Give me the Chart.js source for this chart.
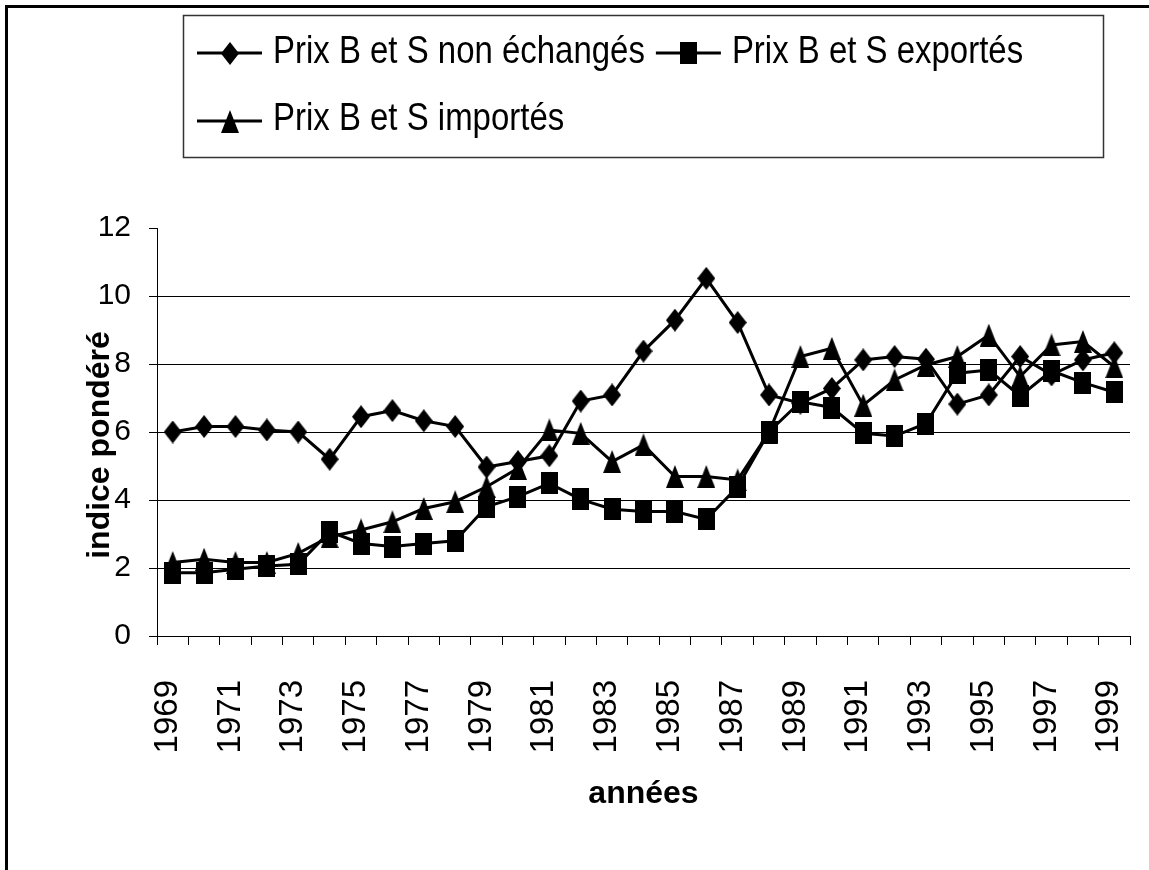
<!DOCTYPE html>
<html>
<head>
<meta charset="utf-8">
<script src="https://cdn.jsdelivr.net/npm/chart.js@4.4.1/dist/chart.umd.min.js"></script>
<style>
    html, body { margin: 0; padding: 0; background: #fff; }
    #wrap { position: relative; width: 1149px; height: 870px; }
</style>
</head>
<body>
<div id="wrap"><canvas id="chart" width="1149" height="870"></canvas></div>
<script>
(function () {
    'use strict';

    var years = [1969, 1970, 1971, 1972, 1973, 1974, 1975, 1976, 1977, 1978,
                 1979, 1980, 1981, 1982, 1983, 1984, 1985, 1986, 1987, 1988,
                 1989, 1990, 1991, 1992, 1993, 1994, 1995, 1996, 1997, 1998, 1999];

    var nonTraded = [6.0, 6.16, 6.16, 6.06, 6.0, 5.2, 6.45, 6.63, 6.33, 6.16,
                     4.97, 5.13, 5.3, 6.91, 7.09, 8.38, 9.29, 10.52, 9.22, 7.09,
                     6.85, 7.28, 8.12, 8.22, 8.14, 6.82, 7.09, 8.22, 7.68, 8.12, 8.33];

    var exported = [1.86, 1.86, 1.96, 2.06, 2.11, 3.07, 2.72, 2.63, 2.72, 2.8,
                    3.8, 4.1, 4.49, 4.02, 3.73, 3.66, 3.66, 3.43, 4.39, 6.01,
                    6.89, 6.72, 5.96, 5.88, 6.25, 7.73, 7.82, 7.06, 7.8, 7.45, 7.17];

    var imported = [2.16, 2.26, 2.16, 2.16, 2.43, 2.92, 3.12, 3.36, 3.75, 3.95,
                    4.39, 4.93, 6.06, 5.96, 5.13, 5.62, 4.69, 4.69, 4.59, 6.0,
                    8.22, 8.46, 6.79, 7.53, 7.97, 8.22, 8.85, 7.63, 8.56, 8.66, 7.92];

    var seriesNames = ['Prix B et S non échangés', 'Prix B et S exportés', 'Prix B et S importés'];
    var yTitle = 'indice pondéré';
    var xTitle = 'années';

    var yMin = 0;
    var yMax = 12;
    var yStep = 2;

    var FONT = '"Liberation Sans", Arial, sans-serif';
    // Legend text in the picture is a condensed face: squeeze a 39px Arial
    var LEGEND_FONT = '39px ' + FONT;
    var LEGEND_SQUEEZE = 0.845;

    /**
     * Solid black marker drawn on a small canvas (Excel style, taller than wide).
     */
    function makeMarker(shape, w, h) {
        var c = document.createElement('canvas');
        c.width = w;
        c.height = h;
        var g = c.getContext('2d');
        g.fillStyle = '#000';
        g.beginPath();
        if (shape === 'diamond') {
            g.moveTo(w / 2, 0); g.lineTo(w, h / 2); g.lineTo(w / 2, h); g.lineTo(0, h / 2);
        } else if (shape === 'square') {
            g.rect(0, 0, w, h);
        } else {
            g.moveTo(w / 2, 0); g.lineTo(w, h); g.lineTo(0, h);
        }
        g.closePath();
        g.fill();
        return c;
    }

    var markers = [
        makeMarker('diamond', 18, 23),
        makeMarker('square', 17, 22),
        makeMarker('triangle', 18, 23),
    ];

    function series(i, data) {
        return {
            label: seriesNames[i],
            data: data,
            borderColor: '#000',
            backgroundColor: '#000',
            borderWidth: 3,
            tension: 0,
            pointStyle: markers[i],
            pointRadius: 10,
            pointHoverRadius: 10,
        };
    }

    // Outer frame, y title and boxed legend in two rows
    var frameAndLegend = {
        id: 'frameAndLegend',
        afterDraw: function (chart) {
            var ctx = chart.ctx;
            ctx.save();
            ctx.fillStyle = '#000';
            ctx.fillRect(5, 5, 1144, 3);
            ctx.fillRect(5, 5, 3, 865);

            // y axis title, a little below the middle of the plot as in the picture
            ctx.save();
            ctx.translate(100, 445);
            ctx.rotate(-Math.PI / 2);
            ctx.font = 'bold 32px ' + FONT;
            ctx.textAlign = 'center';
            ctx.textBaseline = 'middle';
            ctx.fillText(yTitle, 0, 0);
            ctx.restore();

            ctx.strokeStyle = '#333';
            ctx.lineWidth = 1.5;
            ctx.strokeRect(183.5, 15.5, 920, 142);

            ctx.font = LEGEND_FONT;
            ctx.fillStyle = '#000';
            ctx.textBaseline = 'alphabetic';
            var rows = [[0, 1], [2]];
            var lineY = [53, 121];
            var baseY = [63, 130];
            rows.forEach(function (row, r) {
                var x = 197;
                row.forEach(function (i) {
                    var ds = chart.data.datasets[i];
                    ctx.strokeStyle = '#000';
                    ctx.lineWidth = 3;
                    ctx.beginPath();
                    ctx.moveTo(x, lineY[r]);
                    ctx.lineTo(x + 65, lineY[r]);
                    ctx.stroke();
                    var m = ds.pointStyle;
                    ctx.drawImage(m, Math.round(x + 32.5 - m.width / 2), Math.round(lineY[r] - m.height / 2));
                    ctx.save();
                    ctx.translate(x + 76, baseY[r]);
                    ctx.scale(LEGEND_SQUEEZE, 1);
                    ctx.fillText(ds.label, 0, 0);
                    ctx.restore();
                    x += 76 + ctx.measureText(ds.label).width * LEGEND_SQUEEZE + 11;
                });
            });
            ctx.restore();
        },
    };

    new Chart(document.getElementById('chart'), {
        type: 'line',
        data: {
            labels: years.map(String),
            datasets: [series(0, nonTraded), series(1, exported), series(2, imported)],
        },
        options: {
            responsive: false,
            animation: false,
            devicePixelRatio: 1,
            layout: { padding: { top: 228, right: 19, bottom: 0, left: 0 } },
            plugins: {
                legend: { display: false },
                tooltip: { enabled: false },
            },
            scales: {
                x: {
                    offset: true,
                    grid: { offset: true, drawOnChartArea: false, drawTicks: true, tickLength: 9, color: '#000' },
                    border: { display: true, color: '#000', width: 1 },
                    ticks: {
                        autoSkip: false,
                        maxRotation: 90,
                        minRotation: 90,
                        padding: 35,
                        labelOffset: -5,
                        color: '#000',
                        font: { family: FONT, size: 33 },
                        callback: function (v, i) { return i % 2 === 0 ? this.getLabelForValue(v) : ''; },
                    },
                    title: {
                        display: true,
                        text: xTitle,
                        color: '#000',
                        font: { family: FONT, size: 32, weight: 'bold' },
                        padding: { top: 0, bottom: 57 },
                    },
                    afterFit: function (s) {
                        s.height = 234;
                        s.paddingLeft = 0;
                        s.paddingRight = 0;
                    },
                },
                y: {
                    min: yMin,
                    max: yMax,
                    grid: {
                        color: function (c) { return c.tick && c.tick.value === yMax ? 'rgba(0,0,0,0)' : '#000'; },
                        tickColor: '#000',
                        tickLength: 8,
                    },
                    border: { display: true, color: '#000', width: 1 },
                    ticks: {
                        stepSize: yStep,
                        padding: 18,
                        color: '#000',
                        font: { family: FONT, size: 30 },
                    },
                    afterFit: function (s) { s.width = 157; },
                },
            },
        },
        plugins: [frameAndLegend],
    });
})();
</script>
</body>
</html>
